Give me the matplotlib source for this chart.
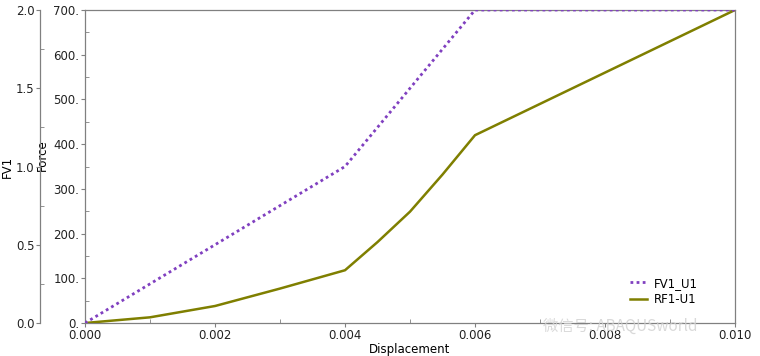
import matplotlib.pyplot as plt
from matplotlib.ticker import MultipleLocator, FuncFormatter

# data
disp_fv = [0.0, 0.004, 0.006, 0.010]
fv1 = [0.0, 1.0, 2.0, 2.0]

disp_rf = [0.0, 0.001, 0.002, 0.003, 0.004, 0.0045, 0.005, 0.0055, 0.006, 0.010]
rf1 = [0.0, 12.7, 38.0, 77.0, 118.0, 181.0, 249.0, 332.0, 420.0, 700.0]

purple = '#8040c0'
olive = '#7f7f00'
grey = '#808080'

plt.rcParams['font.family'] = ['DejaVu Sans', 'Noto Sans CJK SC']

fig = plt.figure(figsize=(7.6, 3.56), dpi=100)
ax = fig.add_axes([85/760, 33/356, 650/760, 313/356])

# Force axis (inner)
l2, = ax.plot(disp_rf, rf1, color=olive, lw=1.8, label='RF1-U1', zorder=3)
ax.set_xlim(0, 0.010)
ax.set_ylim(0, 700)
ax.xaxis.set_major_locator(MultipleLocator(0.002))
ax.xaxis.set_minor_locator(MultipleLocator(0.001))
ax.yaxis.set_major_locator(MultipleLocator(100))
ax.yaxis.set_minor_locator(MultipleLocator(50))
ax.xaxis.set_major_formatter(FuncFormatter(lambda v, p: '%.3f' % v))
ax.yaxis.set_major_formatter(FuncFormatter(lambda v, p: '%d.' % round(v)))
ax.tick_params(axis='both', which='major', direction='out', length=3,
               color=grey, labelsize=8.5, labelcolor='#222222', pad=1)
ax.tick_params(axis='both', which='minor', direction='in', length=3, color=grey)
ax.tick_params(axis='y', which='both', right=True)
ax.tick_params(axis='y', which='major', labelright=False)
for s in ax.spines.values():
    s.set_color(grey)
    s.set_linewidth(0.9)
ax.set_xlabel('Displacement', fontsize=8.5, labelpad=2)
ax.xaxis.set_label_coords(0.5, -0.065)
ax.set_ylabel('Force', fontsize=8.5, labelpad=0)
ax.yaxis.set_label_coords(-0.055, 0.535)

# FV1 axis (outer, on the left), 45 px left of the Force axis
ax2 = ax.twinx()
l1, = ax2.plot(disp_fv, fv1, color=purple, lw=2, ls=(0, (1, 1.2)), label='FV1_U1', zorder=3)
ax2.set_ylim(0, 2.0)
ax2.yaxis.set_label_position('left')
ax2.yaxis.set_ticks_position('left')
ax2.spines['left'].set_position(('outward', 45 * 72 / 100))
ax2.spines['left'].set_visible(True)
ax2.spines['right'].set_visible(False)
ax2.spines['top'].set_visible(False)
ax2.spines['bottom'].set_visible(False)
ax2.spines['left'].set_color(grey)
ax2.spines['left'].set_linewidth(0.9)
ax2.yaxis.set_major_locator(MultipleLocator(0.5))
ax2.yaxis.set_minor_locator(MultipleLocator(0.25))
ax2.yaxis.set_major_formatter(FuncFormatter(lambda v, p: '%.1f' % v))
ax2.tick_params(axis='y', which='major', direction='out', length=3,
                color=grey, labelsize=8.5, labelcolor='#222222', pad=1)
ax2.tick_params(axis='y', which='minor', direction='in', length=3, color=grey)
ax2.set_ylabel('FV1', fontsize=8.5, labelpad=0)
ax2.yaxis.set_label_coords(-0.11, 0.5)

leg = ax2.legend(handles=[l1, l2], loc='lower right', bbox_to_anchor=(0.96, 0.02),
                 frameon=False, fontsize=8.5, handlelength=1.5, handletextpad=0.6,
                 labelspacing=0.3)

# watermark
fig.text(0.715, 0.07, '微信号: ABAQUSworld', fontsize=11, color='#d0d0d0',
         alpha=0.8, family=['Noto Sans CJK SC', 'DejaVu Sans'])

fig.savefig('out.png', dpi=100)
